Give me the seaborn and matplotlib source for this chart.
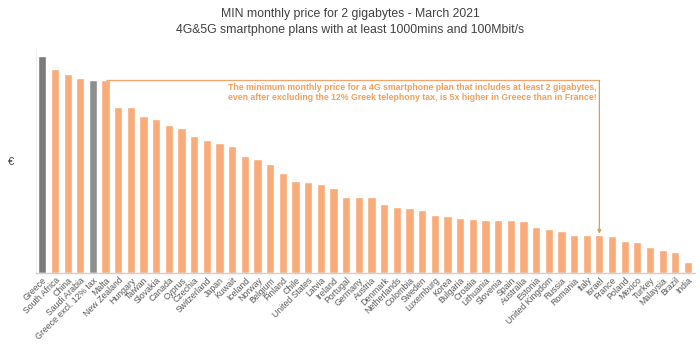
import matplotlib
matplotlib.use("Agg")
import matplotlib.pyplot as plt
import seaborn as sns
import pandas as pd

countries = ["Greece", "South Africa", "China", "Saudi Arabia", "Greece excl. 12% tax", "Malta",
             "New Zealand", "Hungary", "Taiwan", "Slovakia", "Canada", "Cyprus", "Czechia",
             "Switzerland", "Japan", "Kuwait", "Iceland", "Norway", "Belgium", "Finland", "Chile",
             "United States", "Latvia", "Ireland", "Portugal", "Germany", "Austria", "Denmark",
             "Netherlands", "Colombia", "Sweden", "Luxemburg", "Korea", "Bulgaria", "Croatia",
             "Lithuania", "Slovenia", "Spain", "Australia", "Estonia", "United Kingdom", "Russia",
             "Romania", "Italy", "Israel", "France", "Poland", "Mexico", "Turkey", "Malaysia",
             "Brazil", "India"]
prices = [28.9, 27.2, 26.6, 26.0, 25.8, 25.7,
          22.1, 22.1, 20.9, 20.6, 19.7, 19.3, 18.3,
          17.8, 17.3, 16.9, 15.6, 15.2, 14.5, 13.4, 12.3,
          12.1, 11.9, 11.3, 10.2, 10.2, 10.1, 9.25,
          8.76, 8.63, 8.36, 7.69, 7.56, 7.33, 7.16,
          7.13, 7.13, 7.04, 7.0, 6.11, 5.89, 5.63,
          5.09, 5.09, 5.09, 5.0, 4.24, 4.07, 3.44, 3.04,
          2.83, 1.44]

title = "MIN monthly price for 2 gigabytes - March 2021\n4G&5G smartphone plans with at least 1000mins and 100Mbit/s"
note = ("The minimum monthly price for a 4G smartphone plan that includes at least 2 gigabytes,\n"
        "even after excluding the 12% Greek telephony tax, is 5x higher in Greece than in France!")

ORANGE = "#F9AB79"
colors = []
for c in countries:
    if c == "Greece":
        colors.append("#7B7B7B")
    elif c == "Greece excl. 12% tax":
        colors.append("#8E8E8E")
    else:
        colors.append(ORANGE)

df = pd.DataFrame({"country": countries, "price": prices})

sns.set_style("white")
plt.rcParams["font.family"] = ["Liberation Sans", "DejaVu Sans"]

fig = plt.figure(figsize=(7.0, 3.44), dpi=100)
ax = fig.add_axes([0.0514, 0.2064, 0.9414, 0.648])

sns.barplot(data=df, x="country", y="price", hue="country", palette=colors,
            legend=False, width=0.65, saturation=1, ax=ax)

ax.set_xlim(-0.5, len(countries) - 0.45)
ax.set_ylim(0, 29.74)
ax.set_yticks([])
ax.set_xlabel("")
ax.set_ylabel("€", rotation=0, fontsize=8, color="#404040", labelpad=18, va="center")

for s in ["top", "right"]:
    ax.spines[s].set_visible(False)
ax.spines["left"].set_color("#f0f0f0")
ax.spines["bottom"].set_color("#d0d0d0")
ax.spines["bottom"].set_linewidth(1.0)

ax.tick_params(axis="x", length=0, pad=2)
ax.set_xticks(range(len(countries)))
ax.set_xticklabels(countries, rotation=45, ha="right", rotation_mode="anchor",
                   fontsize=6.3, color="#595959")

fig.text(0.5, 0.937, title, fontsize=8.8, color="#404040", ha="center", va="center",
         linespacing=1.45)

# annotation: line from Malta to Israel with arrow
i_malta = countries.index("Malta")
i_target = countries.index("Israel")
y_line = prices[i_malta]
LINE = "#F2A66E"
ax.plot([i_malta, i_target], [y_line, y_line], color=LINE, lw=0.9, solid_capstyle="butt")
ax.annotate("", xy=(i_target, prices[i_target] + 0.15), xytext=(i_target, y_line),
            arrowprops=dict(arrowstyle="-|>", color="#E09A55", lw=0.9,
                            mutation_scale=5, shrinkA=0, shrinkB=0))
ax.text(i_target - 0.2, y_line - 0.4, note, ha="right", va="top", fontsize=6.3,
        fontweight="bold", color="#F0A058", linespacing=1.1)

fig.savefig("out.png", dpi=100)
